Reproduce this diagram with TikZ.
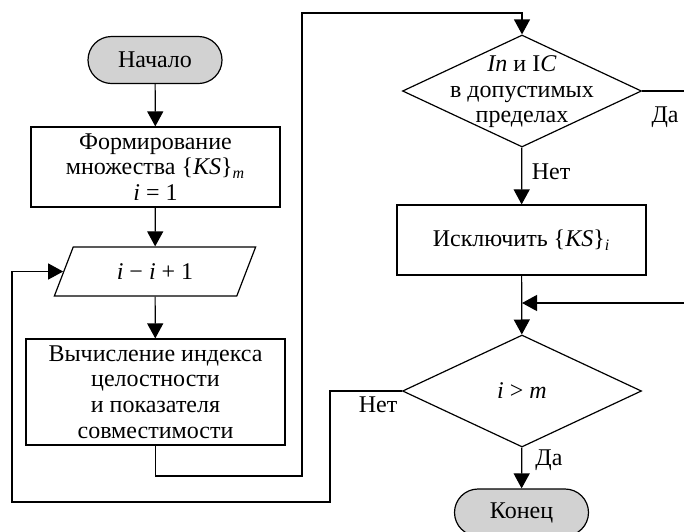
\documentclass[tikz,border=0pt]{standalone}
\usepackage{fontspec}
\setmainfont{Liberation Serif}
\usetikzlibrary{shapes.geometric,shapes.misc,arrows.meta}

\begin{document}
\begin{tikzpicture}[x=0.5pt, y=-0.5pt, line width=0.6pt,
  font=\fontsize{12}{12.8}\selectfont,
  every node/.style={inner sep=0pt},
  terminal/.style={draw, rounded rectangle, fill=gray!35, minimum width=67pt, minimum height=23.5pt},
  block/.style={draw, rectangle, align=center},
  io/.style={draw, trapezium, trapezium left angle=61, trapezium right angle=119,
    trapezium stretches=true, minimum width=101pt, minimum height=24.5pt},
  decision/.style={draw, diamond, minimum width=119.5pt, minimum height=56pt},
  line/.style={draw, -{Triangle[length=7.5pt,width=8pt]}}]
  \useasboundingbox (0,0) rectangle (684,531);

  \node[terminal] (start) at (155,60) {Начало};
  \node[block, minimum width=124.5pt, minimum height=40pt] (form) at (155.5,167)
    {Формирование\\множества \{\textit{KS}\}\textsubscript{\textit{m}}\\\textit{i} = 1};
  \node[io] (incr) at (155,271.5) {\textit{i} − \textit{i} + 1};
  \node[block, minimum width=129.5pt, minimum height=53pt] (calc) at (155.5,392)
    {Вычисление индекса\\целостности\\и показателя\\совместимости};
  \node[decision] (cond1) at (522,91) {};
  \node[align=center] (cond1txt) at (522,92) {\textit{In} и I\textit{C}\\в допустимых\\пределах};
  \node[block, minimum width=124.5pt, minimum height=35pt] (excl) at (521.5,240)
    {Исключить \{\textit{KS}\}\textsubscript{\textit{i}}};
  \node[decision] (cond2) at (522,391) {\textit{i} > \textit{m}};
  \node[terminal] (end) at (521.5,512.5) {Конец};

  \node (yes1) at (665,117) {Да};
  \node (no1) at (551,172) {Нет};
  \node (no2) at (378,405) {Нет};
  \node (yes2) at (549,460) {Да};

  \coordinate (b1) at (302,476);
  \coordinate (b2) at (302,13);
  \coordinate (out1) at (684,91);
  \coordinate (join) at (522,303);
  \coordinate (back) at (684,303);
  \coordinate (c1) at (330,502);
  \coordinate (c2) at (12,502);

  \draw[line] (start) -- (form);
  \draw[line] (form) -- (incr);
  \draw[line] (incr) -- (calc);
  \draw[line] (calc.south) |- (b1) -- (b2) -| (cond1.north);
  \draw (cond1.east) -- (out1);
  \draw[line] (cond1) -- (excl);
  \draw[line] (excl) -- (cond2);
  \draw[line] (back) -- (join);
  \draw[line] (cond2.west) -| (c1) -- (c2) |- (incr.left side);
  \draw[line] (cond2) -- (end);
\end{tikzpicture}
\end{document}
